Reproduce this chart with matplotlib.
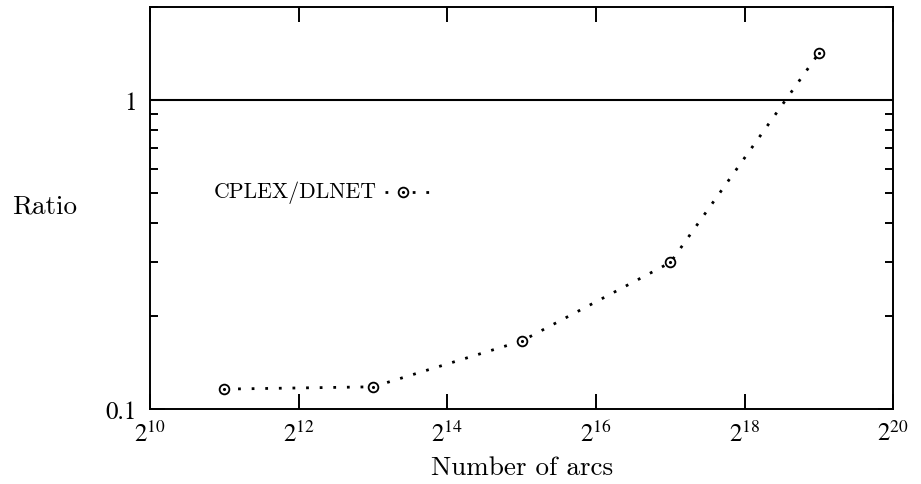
import numpy as np
import matplotlib
matplotlib.use("Agg")
import matplotlib.pyplot as plt
from matplotlib.ticker import LogLocator, FixedLocator, FixedFormatter, NullFormatter

plt.rcParams['font.family'] = 'cmr10'
plt.rcParams['mathtext.fontset'] = 'stix'
plt.rcParams['axes.formatter.use_mathtext'] = True

# data
arcs_exp = [11, 13, 15, 17, 19]
ratio = [0.116, 0.118, 0.166, 0.298, 1.42]
xtick_exp = [10, 12, 14, 16, 18, 20]
ytick_vals = [0.1, 1]
ytick_labels = ['0.1', '1']

arcs = [2.0 ** e for e in arcs_exp]

DOTS = (0, (1.0, 3.9))

fig = plt.figure(figsize=(9.21, 4.85), dpi=100)
ax = fig.add_axes([0.163, 0.1546, 0.807, 0.829])

ax.set_xscale('log', base=2)
ax.set_yscale('log')
ax.set_xlim(2.0 ** 10, 2.0 ** 20)
ax.set_ylim(0.1, 2.0)

# reference line at ratio 1
ax.axhline(1.0, color='black', lw=1.5)

ax.plot(arcs, ratio, color='black', lw=2.0, linestyle=DOTS, dash_capstyle='butt')
ax.plot(arcs, ratio, linestyle='none', marker='o', markersize=7,
        markerfacecolor='white', markeredgecolor='black', markeredgewidth=1.3)
ax.plot(arcs, ratio, linestyle='none', marker='.', markersize=2.5, color='black')

# legend drawn by hand, gnuplot style
ly = 0.54
ax.text(0.3055, ly, 'CPLEX/DLNET', transform=ax.transAxes, fontsize=15.7,
        ha='right', va='center')
ax.plot([0.316, 0.384], [ly, ly], transform=ax.transAxes, color='black',
        lw=2.0, linestyle=DOTS, dash_capstyle='butt')
ax.plot([0.340], [ly], transform=ax.transAxes, linestyle='none', marker='o',
        markersize=7, markerfacecolor='white', markeredgecolor='black',
        markeredgewidth=1.3)
ax.plot([0.340], [ly], transform=ax.transAxes, linestyle='none', marker='.',
        markersize=2.5, color='black')

ax.xaxis.set_major_locator(FixedLocator([2.0 ** e for e in xtick_exp]))
ax.xaxis.set_major_formatter(FixedFormatter([r'$2^{%d}$' % e for e in xtick_exp]))
ax.xaxis.set_minor_locator(FixedLocator([]))

ax.yaxis.set_major_locator(FixedLocator(ytick_vals))
ax.yaxis.set_major_formatter(FixedFormatter(ytick_labels))
ax.yaxis.set_minor_locator(LogLocator(base=10, subs=np.arange(2, 10)))
ax.yaxis.set_minor_formatter(NullFormatter())

ax.tick_params(which='both', direction='in', top=True, right=True, color='black')
ax.tick_params(which='major', length=11, width=1.4)
ax.tick_params(which='minor', length=6, width=1.4)
ax.tick_params(axis='x', labelsize=18, pad=8)
ax.tick_params(axis='y', labelsize=18, pad=10)
for lab in ax.get_yticklabels():
    lab.set_family('STIXGeneral')

for s in ax.spines.values():
    s.set_linewidth(1.4)

ax.set_xlabel('Number of arcs', fontsize=19.5, labelpad=7)
ax.set_ylabel('Ratio', fontsize=19.5, rotation=0, ha='left', va='center')
ax.yaxis.set_label_coords(-0.186, 0.507)

fig.savefig('out.png', dpi=100)
